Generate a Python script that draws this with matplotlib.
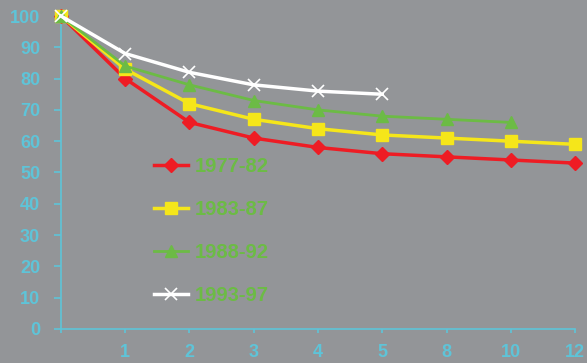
import numpy as np
import matplotlib.pyplot as plt

plt.rcParams['font.family'] = ['Liberation Sans', 'DejaVu Sans']

# x categories (first position unlabeled)
x_labels = ["", "1", "2", "3", "4", "5", "8", "10", "12"]

# series values
s_7782 = [100, 80, 66, 61, 58, 56, 55, 54, 53]
s_8387 = [100, 83, 72, 67, 64, 62, 61, 60, 59]
s_8892 = [100, 84, 78, 73, 70, 68, 67, 66]
s_9397 = [100, 88, 82, 78, 76, 75]

bg = "#939598"
axis_col = "#5ec4d8"

fig = plt.figure(figsize=(5.87, 3.63), dpi=100, facecolor=bg)
ax = fig.add_axes([0.1039, 0.0937, 0.8757, 0.8622], facecolor=bg)

ax.plot(range(len(s_7782)), s_7782, color="#ee1c24", lw=2.5, marker="D", ms=7,
        label="1977-82", clip_on=False, zorder=3)
ax.plot(range(len(s_8387)), s_8387, color="#f5e61a", lw=2.5, marker="s", ms=9,
        label="1983-87", clip_on=False, zorder=3)
ax.plot(range(len(s_8892)), s_8892, color="#6cbb45", lw=2, marker="^", ms=9,
        label="1988-92", clip_on=False, zorder=3)
ax.plot(range(len(s_9397)), s_9397, color="white", lw=2.5, marker="x", ms=9, mew=1.2,
        label="1993-97", clip_on=False, zorder=4)

ax.set_xlim(0, 8)
ax.set_ylim(0, 100)
ax.set_yticks(np.arange(0, 101, 10))
ax.set_xticks(range(len(x_labels)))
ax.set_xticklabels(x_labels)

for s in ["top", "right"]:
    ax.spines[s].set_visible(False)
for s in ["left", "bottom"]:
    ax.spines[s].set_color(axis_col)
    ax.spines[s].set_linewidth(1.2)

ax.tick_params(axis="y", colors=axis_col, length=5, width=1.2, pad=10,
               labelsize=13)
ax.tick_params(axis="x", colors=axis_col, length=3, width=1.2, pad=8,
               labelsize=13)
for t in ax.get_xticklabels() + ax.get_yticklabels():
    t.set_fontweight("bold")

leg = ax.legend(loc="center left", bbox_to_anchor=(0.145, 0.313), frameon=False,
                labelspacing=1.18, handlelength=1.7, handletextpad=0.35,
                prop={"weight": "bold", "size": 14.5})
for t in leg.get_texts():
    t.set_color("#6cbb45")

plt.savefig("out.png", dpi=100, facecolor=bg)
